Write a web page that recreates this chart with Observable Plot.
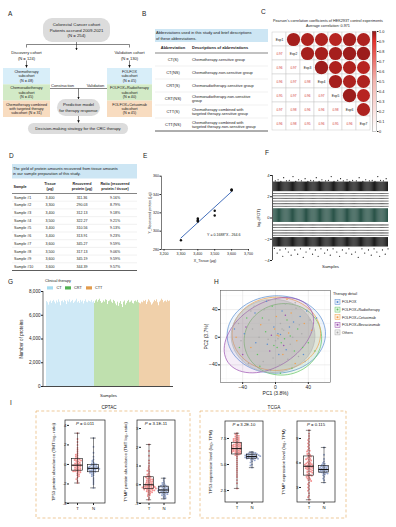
<!DOCTYPE html>
<html><head><meta charset="utf-8">
<script src="https://cdn.jsdelivr.net/npm/d3@7"></script>
<script src="https://cdn.jsdelivr.net/npm/@observablehq/plot@0.6"></script>
<style>
html,body{margin:0;padding:0;background:#fff;}
#fig{position:relative;width:396px;height:527px;overflow:hidden;font-family:"Liberation Sans",Arial,sans-serif;}
#fig svg{font-family:"Liberation Sans",Arial,sans-serif;}
.p{position:absolute;}
.p svg{overflow:visible;}
</style></head><body><div id="fig"></div>
<script>
const FONT = 'Liberation Sans, Arial, sans-serif';

// ---------------- DATA ----------------
// A: flowchart
const cohortTop = ["Colorectal Cancer cohort", "Patients accrued 2009-2021", "(N = 254)"];
const discoveryLabel = ["Discovery cohort", "(N = 124)"];
const validationLabel = ["Validation cohort", "(N = 130)"];
const discoverySub = [["Chemotherapy", "subcohort", "(N = 48)"], ["Chemoradiotherapy", "subcohort", "(N = 45)"], ["Chemotherapy combined", "with targeted therapy", "subcohort (N = 31)"]];
const validationSub = [["FOLFOX", "subcohort", "(N = 45)"], ["FOLFOX+Radiotherapy", "subcohort", "(N = 40)"], ["FOLFOX+Cetuximab", "subcohort", "(N = 45)"]];
const predictiveLabel = ["Predictive model", "for therapy response"];
const decisionLabel = "Decision-making strategy for the CRC therapy";

// B: abbreviation table
const abbrevs = ["CT(S)", "CT(NS)", "CRT(S)", "CRT(NS)", "CTT(S)", "CTT(NS)"];
const abbrevDesc = [["Chemotherapy-sensitive group"], ["Chemotherapy-non-sensitive group"], ["Chemoradiotherapy-sensitive group"], ["Chemoradiotherapy-non-sensitive", "group"], ["Chemotherapy combined with", "targeted therapy-sensitive group"], ["Chemotherapy combined with", "targeted therapy-non-sensitive group"]];

// C: correlation matrix (lower triangle)
const expNames = ["Exp1", "Exp2", "Exp3", "Exp4", "Exp5", "Exp6", "Exp7"];
const corrLower = [[], [0.97], [0.96, 0.97], [0.96, 0.97, 0.98], [0.95, 0.97, 0.96, 0.97], [0.97, 0.98, 0.96, 0.96, 0.98], [0.96, 0.98, 0.95, 0.96, 0.95, 0.96]];

// D / E: protein yield
const sampleNames = ["Sample #1", "Sample #2", "Sample #3", "Sample #4", "Sample #5", "Sample #6", "Sample #7", "Sample #8", "Sample #9", "Sample #10"];
const tissueUg = [3400, 3300, 3400, 3500, 3400, 3400, 3600, 3500, 3600, 3600];
const recoveredUg = [311.36, 290.03, 312.13, 322.27, 310.56, 313.91, 345.27, 317.13, 345.19, 344.39];
const ratioPct = ["9.16%", "8.79%", "9.18%", "9.21%", "9.13%", "9.23%", "9.59%", "9.06%", "9.59%", "9.57%"];
const eTicksX = [3200, 3300, 3400, 3500, 3600, 3700];
const eTicksY = [280, 300, 320, 340, 360];

// F: log2(FOT) distribution
const fCore = [-0.42, 0.87];
const fUpperBand = [2.48, 3.38];
const fLowerBand = [-2.73, -1.84];
const fMidLevels = [1.1, 1.35, 1.6, 1.85, 2.1, 2.3, -0.65, -0.9, -1.15, -1.4, -1.62];
const fOutliers = [[3,3.5],[6,3.6],[9,3.45],[12,3.8],[15,3.5],[18,3.55],[22,3.9],[25,3.45],[28,3.6],[31,3.5],[35,3.7],[38,3.45],[41,3.55],[44,3.5],[47,3.8],[50,3.45],[53,3.6],[57,3.5],[60,3.55],[63,3.9],[66,3.45],[70,3.55],[73,3.7],[76,3.5],[80,3.6],[83,3.45],[86,3.55],[90,3.5],[93,3.8],[97,3.45],[100,3.6],[104,3.5],[107,3.55],[110,3.45],[113,3.9],[116,3.55],[119,3.5],[122,3.7],
 [2,-2.85],[5,-3.3],[8,-3.0],[11,-3.6],[14,-2.9],[17,-3.2],[20,-3.5],[24,-3.0],[27,-3.4],[30,-2.9],[33,-3.7],[36,-3.2],[40,-2.9],[43,-3.4],[46,-3.0],[49,-3.6],[52,-2.9],[56,-3.3],[59,-3.0],[62,-3.5],[65,-2.9],[69,-3.2],[72,-3.6],[75,-3.0],[79,-3.3],[82,-2.9],[85,-3.4],[89,-3.2],[92,-3.7],[96,-2.9],[99,-3.3],[103,-3.0],[106,-3.5],[109,-2.9],[112,-3.2],[115,-3.6],[118,-3.0],[121,-3.4],[124,-2.9]];

// G: number of proteins per sample
const therapyGroups = ["CT", "CRT", "CTT"];
const ctProteins = [7150,7050,6850,7100,7200,7000,7150,7250,7100,6950,7200,7050,7300,7100,6800,7150,7200,7050,7250,7150,6900,7200,7100,7300,7050,7150,7250,7000,7100,7200,7350,7050,7150,7000,7250,7100,7200,6950,7150,7300,7100,7050,7200,7150,7100,7250,7050,7150];
const crtProteins = [7000,7200,7300,7100,7250,7350,7150,7000,7050,7200,7100,7300,7250,6900,7150,7200,7300,7100,7000,7250,7150,6950,6800,7100,6750,7000,7150,6900,6650,7100,7200,6850,7000,7150,7250,7050,7100,7200,7000,6950,7150,7200,7100,7250,7050];
const cttProteins = [7000,6950,7100,7050,7200,7150,7250,6900,7100,7300,7200,7050,6850,6950,7100,7250,7150,7300,7050,6800,7100,7200,7350,7250,7050,7150,7200,7100,7250,7150,7200];
const gTicks = [0, 2000, 4000, 6000, 8000];

// H: PCA
const hGroups = ["FOLFOX", "FOLFOX+Radiotherapy", "FOLFOX+Cetuximab", "FOLFOX+Bevacizumab", "Others"];
const hEllipses = [[0, 1, 4, 60, 56, 8], [1, 9, -3, 47, 52, -12], [2, 1, 5, 54, 53, 15], [3, -8, 3, 64, 43, 45], [4, -3, 2, 51, 53, 0]]; // group, cx, cy, rx, ry, angle
const pcX = [-45,-38,-42,-35,-30,-28,-25,-22,-20,-18,-15,-14,-12,-10,-8,-7,-5,-4,-3,-2,0,1,2,3,4,5,6,7,8,9,10,11,12,13,14,15,16,17,18,19,20,21,22,23,25,26,27,28,30,32,33,35,36,38,40,42,44,-40,-33,-26,-19,-11,-6,0,6,14,24,-48,-50,48,50,-36,-24,-16,-9,-1,4,10,18,24,29,34,-30,-44,2,6,3,-2,8,12];
const pcY = [20,5,-5,28,-15,12,35,-25,0,18,-35,40,8,-10,25,-20,3,45,-30,15,-5,30,-15,5,2,-40,20,-8,38,-25,10,-2,48,-18,25,-32,6,15,-10,35,-45,0,22,-20,42,-5,12,-28,30,5,-15,20,-35,38,-8,25,10,-25,-38,45,-42,52,-48,55,-52,55,50,0,12,-20,28,15,-8,28,-3,12,-25,-12,2,-38,18,-25,38,-15,3,4,-2,-12,12,32];
const pcG = [4,0,4,1,2,4,0,1,4,2,4,4,1,0,4,3,3,1,4,0,4,2,1,0,2,4,4,1,0,2,4,1,4,0,1,4,2,0,4,2,1,4,0,1,4,2,1,4,0,4,1,2,4,0,1,4,2,3,4,4,1,0,4,4,1,2,4,2,0,1,0,3,0,1,4,2,0,3,1,2,4,0,4,1,2,0,4,1,4,3];

// I: TP53 / TYMP boxplots
const cptacTp53T = [3.2,2.6,2.3,2.0,1.7,1.5,1.3,1.1,1.0,0.9,0.8,0.7,0.6,0.5,0.5,0.45,0.4,0.35,0.3,0.2,0.15,0.1,0.05,0.0,-0.05,-0.1,-0.1,-0.15,-0.2,-0.25,-0.3,-0.35,-0.4,-0.45,-0.5,-0.55,-0.6,-0.65,-0.7,-0.7,-0.75,-0.8,-0.9,-1.0,-1.1,-1.2,-1.35,-1.5,-1.7,-1.9];
const cptacTp53N = [2.7,1.8,1.2,0.8,0.5,0.35,0.2,0.1,0.05,0.0,-0.05,-0.1,-0.15,-0.2,-0.22,-0.25,-0.3,-0.32,-0.35,-0.38,-0.4,-0.42,-0.45,-0.5,-0.52,-0.55,-0.6,-0.65,-0.7,-0.75,-0.8,-0.85,-0.9,-1.0,-1.1,-1.2,-1.4,-1.6,-1.8,-2.0,-2.4];
const cptacTympT = [2.15,1.8,1.55,1.3,1.15,1.0,0.9,0.8,0.75,0.7,0.6,0.55,0.5,0.45,0.42,0.4,0.35,0.32,0.3,0.28,0.25,0.22,0.2,0.18,0.15,0.12,0.1,0.08,0.05,0.03,0.0,-0.02,-0.05,-0.08,-0.1,-0.12,-0.15,-0.18,-0.2,-0.22,-0.25,-0.28,-0.3,-0.35,-0.4,-0.45,-0.5,-0.55,-0.6,-0.7,-0.8,-0.05,-0.1,-0.12,-0.15,-0.18,-0.2,-0.25,-0.3,-0.35,-0.4];
const cptacTympN = [0.35,0.25,0.15,0.1,0.05,0.0,-0.03,-0.05,-0.08,-0.1,-0.12,-0.14,-0.16,-0.18,-0.2,-0.22,-0.24,-0.26,-0.28,-0.28,-0.3,-0.32,-0.34,-0.36,-0.38,-0.4,-0.42,-0.44,-0.46,-0.48,-0.5,-0.53,-0.56,-0.6,-0.65,-0.7,-0.75];
const tcgaTp53T = [8.0,7.9,7.8,7.75,7.7,7.6,7.55,7.5,7.45,7.4,7.35,7.3,7.25,7.2,7.15,7.1,7.05,7.0,6.95,6.9,6.9,6.85,6.8,6.8,6.75,6.7,6.7,6.65,6.6,6.6,6.55,6.5,6.5,6.45,6.4,6.4,6.35,6.3,6.3,6.25,6.2,6.2,6.15,6.1,6.05,6.0,5.95,5.9,5.8,5.6,5.4,5.2,5.0,4.8,4.6,4.4,4.2,4.0,3.8,3.5,3.2,2.7];
const tcgaTp53N = [6.2,6.15,6.1,6.1,6.05,6.0,6.0,5.98,5.95,5.92,5.9,5.88,5.85,5.83,5.8,5.8,5.78,5.75,5.72,5.7,5.68,5.65,5.62,5.6,5.58,5.55,5.5,5.45,5.4,5.3,5.2,5.0,4.9,4.7];
const tcgaTympT = [10.0,9.6,9.3,9.0,8.8,8.6,8.4,8.2,8.0,7.8,7.6,7.5,7.4,7.2,7.1,7.0,6.9,6.8,6.7,6.6,6.5,6.45,6.4,6.3,6.2,6.1,6.0,5.95,5.9,5.85,5.8,5.75,5.7,5.65,5.6,5.55,5.5,5.45,5.4,5.35,5.3,5.25,5.2,5.1,5.0,4.95,4.9,4.8,4.7,4.6,4.5,4.45,4.4,4.3,4.2,4.1,4.0,3.9,3.8,3.6,3.4,3.2,3.0,2.8,2.6,2.3,2.0,1.8,1.5];
const tcgaTympN = [7.9,7.0,6.5,6.2,6.0,5.9,5.8,5.7,5.65,5.6,5.55,5.5,5.45,5.4,5.35,5.3,5.25,5.2,5.2,5.15,5.1,5.05,5.0,4.95,4.9,4.85,4.8,4.75,4.7,4.6,4.5,4.3,4.1,3.9,3.6];
const pValues = ["0.011", "3.1E-11", "3.2E-10", "0.115"];

// ---------------- STYLES ----------------
const subColors = ["#d8eef9", "#d2eac6", "#f8dcc0"];
const boxGray = "#dcdcdc";
const tableBlue = "#cde6f4";
const corrColor = {type: "linear", domain: [0, 0.5, 0.9, 1], range: ["#ffffff", "#f3b4ae", "#e3302a", "#8a1818"]};
const gBarColors = ["#cfe9f6", "#bfe0ae", "#f0d0aa"];
const gKeyColors = ["#a6dcf0", "#52b152", "#e29b4c"];
const hColors = ["#5b8fd2", "#62c462", "#f0a04c", "#9b4fb0", "#aaaaaa"];
const RED = "#e8201f", BLUE = "#2d50a0";

const fig = d3.select("#fig");
const ov = fig.append("svg").attr("width", 396).attr("height", 527)
  .style("position", "absolute").style("left", "0px").style("top", "0px").attr("font-family", FONT);
ov.append("defs").append("marker").attr("id", "ah").attr("viewBox", "0 0 6 6").attr("refX", 5.5).attr("refY", 3)
  .attr("markerUnits", "userSpaceOnUse").attr("markerWidth", 2.6).attr("markerHeight", 2.6).attr("orient", "auto")
  .append("path").attr("d", "M0,0L6,3L0,6Z").attr("fill", "#111");

function txt(g, x, y, s, size, o = {}) {
  const t = g.append("text").attr("x", x).attr("y", y).attr("font-size", size)
    .attr("text-anchor", o.anchor || "start").attr("fill", o.fill || "#1a1a1a");
  if (o.weight) t.attr("font-weight", o.weight);
  if (o.italic) t.attr("font-style", "italic");
  t.text(s);
  return t;
}
function lines(g, x, yc, arr, size, lh, o = {}) {
  const y0 = yc - (arr.length - 1) * lh / 2 + size * 0.35;
  arr.forEach((s, i) => txt(g, x, y0 + i * lh, s, size, o));
}
function seg(g, x1, y1, x2, y2, arrow = false, w = 0.55, c = "#222") {
  const l = g.append("line").attr("x1", x1).attr("y1", y1).attr("x2", x2).attr("y2", y2).attr("stroke", c).attr("stroke-width", w);
  if (arrow) l.attr("marker-end", "url(#ah)");
}
function box(g, x, y, w, h, fill, rx = 0) {
  g.append("rect").attr("x", x).attr("y", y).attr("width", w).attr("height", h).attr("rx", rx).attr("fill", fill);
}

// Panel letters
[["A", 8, 16], ["B", 142, 16], ["C", 261, 14], ["D", 9, 158], ["E", 143, 158], ["F", 265, 155], ["G", 8, 284], ["H", 214, 284], ["I", 10, 405]]
  .forEach(([s, x, y]) => txt(ov, x, y, s, 6.5));

// ---- A flowchart
const A = ov.append("g");
box(A, 43, 18, 67, 24, boxGray, 9);
lines(A, 76.5, 30, cohortTop, 4.3, 5.3, {anchor: "middle"});
seg(A, 76.5, 42, 76.5, 50, true);
seg(A, 26.5, 44.5, 129.5, 44.5); seg(A, 26.5, 44.5, 26.5, 47.5); seg(A, 129.5, 44.5, 129.5, 47.5);
lines(A, 26.5, 55.5, discoveryLabel, 4.1, 5.3, {anchor: "middle"});
lines(A, 129.5, 55.5, validationLabel, 4.1, 5.3, {anchor: "middle"});
seg(A, 26.5, 60.5, 26.5, 67.5, true); seg(A, 129.5, 60.5, 129.5, 67.5, true);
const stackY = [68, 84.3, 100.6, 117];
[[3, 47, discoverySub], [107, 45, validationSub]].forEach(([x0, w, subs]) => subs.forEach((lns, i) => {
  box(A, x0, stackY[i], w, stackY[i + 1] - stackY[i], subColors[i]);
  lines(A, x0 + w / 2, (stackY[i] + stackY[i + 1]) / 2, lns, 3.7, 4.4, {anchor: "middle"});
}));
seg(A, 50, 88.5, 107, 88.5);
txt(A, 62.5, 87.4, "Construction", 4.1, {anchor: "middle"});
txt(A, 95.5, 87.4, "Validation", 4.1, {anchor: "middle"});
seg(A, 78.5, 88.5, 78.5, 99, true);
box(A, 57, 99, 43, 17, boxGray, 8.5);
lines(A, 78.5, 107.5, predictiveLabel, 4.2, 5.4, {anchor: "middle"});
seg(A, 78.5, 116, 78.5, 122.6, true);
box(A, 28, 123, 100, 11, boxGray, 5.5);
txt(A, 78, 130, decisionLabel, 4.2, {anchor: "middle"});

// ---- B table
const B = ov.append("g");
box(B, 155, 29, 113, 13, tableBlue);
txt(B, 156, 34.4, "Abbreviations used in this study and brief descriptions", 4.0);
txt(B, 156, 39.7, "of these abbreviations.", 4.0);
txt(B, 173, 49, "Abbreviation", 4.0, {anchor: "middle", weight: "bold"});
txt(B, 192, 49, "Descriptions of abbreviations", 4.0, {weight: "bold"});
seg(B, 155, 53, 268, 53, false, 0.6, "#333");
abbrevs.forEach((a, i) => {
  const yc = 53 + 13 * (i + 0.5);
  txt(B, 173, yc + 1.4, a, 4.0, {anchor: "middle"});
  lines(B, 192, yc, abbrevDesc[i], 3.9, 4.4);
  if (i < abbrevs.length - 1) seg(B, 155, 53 + 13 * (i + 1), 268, 53 + 13 * (i + 1), false, 0.3, "#cfcfcf");
});
seg(B, 155, 131, 268, 131, false, 0.8, "#333");

// ---- C titles
txt(ov, 328, 21.5, "Pearson's correlation coefficients of HEK293T control experiments", 3.75, {anchor: "middle"});
txt(ov, 328, 26.7, "Average correlation: 0.971", 3.75, {anchor: "middle"});

// ---- D table
const D = ov.append("g");
box(D, 12, 164, 125, 14.5, tableBlue);
txt(D, 13, 169.8, "The yield of protein amounts recovered from tissue amounts", 3.95);
txt(D, 13, 175.3, "in our sample preparation of this study.", 3.95);
const dCols = [50, 82, 115];
txt(D, 20, 187.5, "Sample", 3.7, {anchor: "middle", weight: "bold"});
[["Tissue", "(\u03bcg)"], ["Recovered", "protein (\u03bcg)"], ["Ratio (recovered", "protein / tissue)"]]
  .forEach((h, i) => lines(D, dCols[i], 186, h, 3.7, 4.6, {anchor: "middle", weight: "bold"}));
seg(D, 12, 193.5, 137, 193.5, false, 0.6, "#333");
sampleNames.forEach((s, i) => {
  const yc = 193.5 + 7.7 * (i + 0.5);
  txt(D, 14, yc + 1.3, s, 3.6);
  txt(D, dCols[0], yc + 1.3, d3.format(",")(tissueUg[i]), 3.6, {anchor: "middle"});
  txt(D, dCols[1], yc + 1.3, recoveredUg[i].toFixed(2), 3.6, {anchor: "middle"});
  txt(D, dCols[2], yc + 1.3, ratioPct[i], 3.6, {anchor: "middle"});
  if (i < sampleNames.length - 1) seg(D, 12, 193.5 + 7.7 * (i + 1), 137, 193.5 + 7.7 * (i + 1), false, 0.3, "#cfcfcf");
});
seg(D, 12, 270.5, 137, 270.5, false, 0.8, "#333");

// ---- G legend
txt(ov, 45, 282, "Clinical therapy", 3.8);
[[47, 56.5], [65, 74], [86, 95]].forEach(([sx, tx], i) => {
  box(ov, sx, 286.3, 6, 3.2, gKeyColors[i]);
  txt(ov, tx, 289.2, therapyGroups[i], 3.8);
});

// ---- H legend
txt(ov, 333, 294.5, "Therapy detail", 3.8);
hGroups.forEach((g, i) => {
  const y = 302 + i * 7.6;
  ov.append("rect").attr("x", 335).attr("y", y - 2.5).attr("width", 5).attr("height", 5)
    .attr("fill", hColors[i]).attr("fill-opacity", 0.15).attr("stroke", hColors[i]).attr("stroke-width", 0.5);
  ov.append("circle").attr("cx", 337.5).attr("cy", y).attr("r", 1).attr("fill", hColors[i]);
  txt(ov, 342, y + 1.3, g, 3.6);
});

// ---- I frames and titles
ov.append("rect").attr("x", 36).attr("y", 411).attr("width", 154).attr("height", 107).attr("fill", "none")
  .attr("stroke", "#e2a655").attr("stroke-width", 0.6).attr("stroke-dasharray", "3,2.2");
ov.append("rect").attr("x", 200).attr("y", 411).attr("width", 146).attr("height", 107).attr("fill", "none")
  .attr("stroke", "#e2a655").attr("stroke-width", 0.6).attr("stroke-dasharray", "3,2.2");
txt(ov, 109, 408.5, "CPTAC", 4.6, {anchor: "middle"});
txt(ov, 274, 408.5, "TCGA", 4.6, {anchor: "middle"});

// ---------------- PLOTS ----------------
function place(el, left, top) {
  const d = fig.append("div").attr("class", "p").style("left", left + "px").style("top", top + "px");
  d.node().appendChild(el);
  return el;
}
const st = (fs) => ({fontFamily: FONT, fontSize: fs + "px", overflow: "visible", background: "transparent", color: "#222"});

// C: correlation matrix
const corrCells = [];
expNames.forEach((a, i) => expNames.forEach((b, j) => {
  const v = i === j ? 1 : (i > j ? corrLower[i][j] : corrLower[j][i]);
  corrCells.push({a, b, i, j, v});
}));
place(Plot.plot({
  width: 99, height: 99, margin: 0, style: st(3.3),
  x: {domain: expNames, axis: null, padding: 0},
  y: {domain: expNames, axis: null, padding: 0},
  color: corrColor,
  r: {type: "linear", domain: [0, 1], range: [0, 6.8]},
  marks: [
    Plot.cell(corrCells, {x: "b", y: "a", fill: "white", stroke: "#c9c9c9", strokeWidth: 0.5}),
    Plot.dot(corrCells.filter(d => d.j > d.i), {x: "b", y: "a", r: "v", fill: "v"}),
    Plot.text(corrCells.filter(d => d.j < d.i), {x: "b", y: "a", text: d => d.v.toFixed(2), fill: "#d2352f", fontSize: 3.2}),
    Plot.text(corrCells.filter(d => d.j === d.i), {x: "b", y: "a", text: "a", fill: "#111", fontSize: 3.3})
  ]
}), 271, 31);

// C colour bar
place(Plot.plot({
  width: 26, height: 104, marginLeft: 2, marginRight: 20, marginTop: 2, marginBottom: 2, style: st(3.8),
  x: {domain: [0, 1], axis: null},
  y: {domain: [0, 1], axis: "right", ticks: d3.range(0, 1.001, 0.1), tickFormat: d => d < 0.001 ? "0" : d.toFixed(1), tickSize: 1.5, tickPadding: 1, label: null},
  color: corrColor,
  marks: [
    Plot.rect(d3.range(0, 1, 0.01), {x1: 0, x2: 1, y1: d => d, y2: d => d + 0.0105, fill: d => d}),
    Plot.frame({stroke: "#777", strokeWidth: 0.4})
  ]
}), 370, 29);

// E: regression
const ePts = tissueUg.map((x, i) => ({x, y: recoveredUg[i]}));
place(Plot.plot({
  width: 125, height: 100, marginLeft: 31, marginRight: 7, marginTop: 10.7, marginBottom: 16, style: st(3.6),
  x: {domain: [3185, 3700], ticks: eTicksX, tickFormat: d3.format(","), tickSize: 1.5, tickPadding: 1, label: "X_Tissue (\u03bcg)", labelAnchor: "center", labelOffset: 12, labelArrow: "none"},
  y: {domain: [280, 360], ticks: eTicksY, tickSize: 1.5, tickPadding: 1, label: "Y_Recovered protein (\u03bcg)", labelAnchor: "center", labelOffset: 13, labelArrow: "none"},
  marks: [
    Plot.ruleX([3185], {strokeWidth: 0.6}),
    Plot.ruleY([280], {strokeWidth: 0.6}),
    Plot.linearRegressionY(ePts, {x: "x", y: "y", stroke: "#2f5fb3", ci: 0, strokeWidth: 0.9}),
    Plot.dot(ePts, {x: "x", y: "y", r: 1.2, fill: "#111"}),
    Plot.text(["Y = 0.1688*X - 264.6"], {frameAnchor: "bottom-right", dx: -8, dy: -14, textAnchor: "end", fontSize: 3.6})
  ]
}), 130, 165);

// G data (also gives F sample ids)
const gData = [];
[ctProteins, crtProteins, cttProteins].forEach((arr, k) => arr.forEach(v => gData.push({id: gData.length + 1, v, group: therapyGroups[k]})));
const sampleIds = gData.map(d => d.id);

// F: log2(FOT)
place(Plot.plot({
  width: 145, height: 108, marginLeft: 22, marginRight: 7, marginTop: 10, marginBottom: 13, style: st(4.2),
  x: {domain: [0, sampleIds.length + 0.5], axis: null},
  y: {domain: [-4, 4], ticks: [-4, -2, 0, 2, 4], tickSize: 2, tickPadding: 1, label: "log\u2082(FOT)", labelAnchor: "center", labelOffset: 15, labelArrow: "none"},
  marks: [
    Plot.rect(sampleIds, {x1: d => d - 0.5, x2: d => d + 0.5, y1: fUpperBand[0], y2: fUpperBand[1], fill: "#111"}),
    Plot.rect(sampleIds, {x1: d => d - 0.5, x2: d => d + 0.5, y1: fLowerBand[0], y2: fLowerBand[1], fill: "#111"}),
    Plot.dot(d3.cross(sampleIds, fMidLevels), {x: d => d[0], y: d => d[1], r: 0.55, fill: "#555"}),
    Plot.rect(sampleIds, {x1: d => d - 0.5, x2: d => d + 0.5, y1: fCore[0], y2: fCore[1], fill: "#1f4a3f"}),
    Plot.dot(fOutliers, {x: d => d[0], y: d => d[1], r: 0.6, fill: "#111"}),
    Plot.ruleX([0], {stroke: "#555", strokeWidth: 1}),
    Plot.text(["Samples"], {frameAnchor: "bottom", dy: 7, fontSize: 4.4})
  ]
}), 250, 165);

// G: number of proteins
const gSvg = place(Plot.plot({
  width: 180, height: 125, marginLeft: 43, marginRight: 7, marginTop: 11, marginBottom: 19, style: st(4.6),
  x: {domain: sampleIds, axis: null, padding: 0.18},
  y: {domain: [0, 8000], ticks: gTicks, tickFormat: d3.format(","), tickSize: 2, tickPadding: 1, label: "Number of proteins", labelAnchor: "center", labelOffset: 24, labelArrow: "none"},
  color: {domain: therapyGroups, range: gBarColors},
  marks: [
    Plot.barY(gData, {x: "id", y: "v", fill: "group"}),
    Plot.ruleY([0], {strokeWidth: 0.9, stroke: "#333"}),
    Plot.text(["Samples"], {frameAnchor: "bottom", dy: 10, fontSize: 4.4})
  ]
}), 0, 280);
d3.select(gSvg).append("line").attr("x1", 43).attr("x2", 43).attr("y1", 11).attr("y2", 106).attr("stroke", "#333").attr("stroke-width", 0.7);

// H: PCA
const hPts = pcX.map((x, i) => ({x, y: pcY[i], g: hGroups[pcG[i]]}));
function ellipsePoints([gi, cx, cy, rx, ry, ang]) {
  const th = ang * Math.PI / 180;
  return d3.range(0, 72).map(k => {
    const t = k / 72 * 2 * Math.PI;
    return {g: hGroups[gi], x: cx + rx * Math.cos(t) * Math.cos(th) - ry * Math.sin(t) * Math.sin(th), y: cy + rx * Math.cos(t) * Math.sin(th) + ry * Math.sin(t) * Math.cos(th)};
  });
}
const ellColored = hEllipses.filter(e => e[0] !== 4).flatMap(ellipsePoints);
const ellOthers = hEllipses.filter(e => e[0] === 4).flatMap(ellipsePoints);
place(Plot.plot({
  width: 135, height: 112, marginLeft: 20, marginRight: 5, marginTop: 5, marginBottom: 15, style: st(5),
  x: {domain: [-67, 67], ticks: [-40, 0, 40], tickSize: 2, tickPadding: 1, label: "PC1 (3.8%)", labelAnchor: "center", labelOffset: 12, labelArrow: "none"},
  y: {domain: [-65.5, 67.7], ticks: [-40, 0, 40], tickSize: 2, tickPadding: 1, label: "PC2 (3.7%)", labelAnchor: "center", labelOffset: 16, labelArrow: "none"},
  color: {domain: hGroups, range: hColors},
  marks: [
    Plot.ruleX([-60, -20, 20, 60], {stroke: "#f0f0f0", strokeWidth: 0.4}),
    Plot.ruleY([-60, -20, 20, 60], {stroke: "#f0f0f0", strokeWidth: 0.4}),
    Plot.ruleX([-40, 0, 40], {stroke: "#e2e2e2", strokeWidth: 0.6}),
    Plot.ruleY([-40, 0, 40], {stroke: "#e2e2e2", strokeWidth: 0.6}),
    Plot.line(ellColored, {x: "x", y: "y", z: "g", stroke: "g", fill: "g", fillOpacity: 0.1, strokeWidth: 0.7, curve: "linear-closed"}),
    Plot.line(ellOthers, {x: "x", y: "y", z: "g", stroke: "#b5b5b5", fill: "#9a9a9a", fillOpacity: 0.3, strokeWidth: 0.7, curve: "linear-closed"}),
    Plot.dot(hPts, {x: "x", y: "y", fill: "g", r: 0.75}),
    Plot.frame({stroke: "#444", strokeWidth: 0.5})
  ]
}), 200, 285);

// I: boxplots
function boxPanel(left, top, W, H, mt, vals, domain, ticks, fmt, label, labelOffset, p) {
  const groups = [["T", vals[0]], ["N", vals[1]]];
  const pts = groups.flatMap(([g, arr]) => arr.map(v => ({g, v})));
  const stats = groups.map(([g, arr]) => {
    const s = d3.sort(arr);
    return {g, min: s[0], q1: d3.quantileSorted(s, 0.25), med: d3.quantileSorted(s, 0.5), q3: d3.quantileSorted(s, 0.75), max: s[s.length - 1]};
  });
  const ml = 25, mr = 5, mb = 10;
  const svg = Plot.plot({
    width: W, height: H, marginLeft: ml, marginRight: mr, marginTop: mt, marginBottom: mb, style: st(4.3),
    fx: {domain: ["T", "N"], paddingInner: 0, paddingOuter: 0.25, axis: "bottom", label: null, tickSize: 2, tickPadding: 1},
    x: {domain: [-1, 1], axis: null},
    y: {domain, ticks, tickFormat: fmt, tickSize: 2, tickPadding: 1, label, labelAnchor: "center", labelOffset, labelArrow: "none"},
    color: {domain: ["T", "N"], range: [RED, BLUE]},
    marks: [
      Plot.dot(pts, Plot.dodgeX({anchor: "middle", padding: 0}, {fx: "g", y: "v", r: 0.95, fill: "g", fillOpacity: 0.5})),
      Plot.ruleX(stats, {fx: "g", x: 0, y1: "min", y2: "max", stroke: "#111", strokeWidth: 0.5}),
      Plot.rect(stats, {fx: "g", x1: -0.68, x2: 0.68, y1: "q1", y2: "q3", fill: "none", stroke: "#111", strokeWidth: 0.6}),
      Plot.ruleY(stats, {fx: "g", x1: -0.68, x2: 0.68, y: "med", stroke: "#111", strokeWidth: 1}),
      Plot.ruleY(stats, {fx: "g", x1: -0.35, x2: 0.35, y: "min", stroke: "#111", strokeWidth: 0.5}),
      Plot.ruleY(stats, {fx: "g", x1: -0.35, x2: 0.35, y: "max", stroke: "#111", strokeWidth: 0.5})
    ]
  });
  const s = d3.select(svg);
  s.append("rect").attr("x", ml).attr("y", mt).attr("width", W - ml - mr).attr("height", H - mt - mb)
    .attr("fill", "none").attr("stroke", "#222").attr("stroke-width", 0.7);
  const t = s.append("text").attr("x", ml + (W - ml - mr) / 2).attr("y", mt + 5).attr("text-anchor", "middle")
    .attr("font-size", 4.3).attr("fill", "#111");
  t.append("tspan").attr("font-style", "italic").text("P");
  t.append("tspan").text(" = " + p);
  place(svg, left, top);
}
boxPanel(40, 412, 70, 101, 8, [cptacTp53T, cptacTp53N], [-4, 4.5], [-4, -2, 0, 2, 4], d => d, "TP53 protein abundance (TMT log\u2082 ratio)", 18, pValues[0]);
boxPanel(112, 412, 68, 101, 8, [cptacTympT, cptacTympN], [-1, 3.43], [-1, 0, 1, 2, 3], d => d, "TYMP protein abundance (TMT log\u2082 ratio)", 18, pValues[1]);
boxPanel(200, 412, 68, 100, 9, [tcgaTp53T, tcgaTp53N], [1.35, 9.13], [2.5, 5, 7.5], d3.format(".1f"), "TP53 expression level (log\u2082 TPM)", 21, pValues[2]);
boxPanel(272, 412, 68, 100, 9, [tcgaTympT, tcgaTympN], [1.16, 11.08], [3, 6, 9], d => d, "TYMP expression level (log\u2082 TPM)", 20, pValues[3]);
</script></body></html>
